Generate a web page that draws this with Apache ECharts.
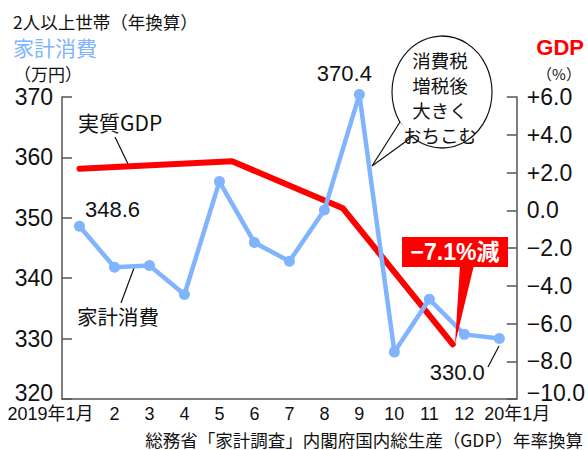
<!DOCTYPE html>
<html>
<head>
<meta charset="utf-8">
<script src="https://cdn.jsdelivr.net/npm/echarts@6/dist/echarts.min.js"></script>
<style>
  html, body { margin: 0; padding: 0; background: #fff; }
  #chart { width: 588px; height: 450px; }
</style>
</head>
<body>
<div id="chart"></div>
<script>
// months (category axis)
var months = ['2019年1月', '2', '3', '4', '5', '6', '7', '8', '9', '10', '11', '12', '20年1月'];
// household consumption, 10k yen (annualized)
var spending = [348.6, 341.8, 342.1, 337.3, 356.0, 345.9, 342.8, 351.3, 370.4, 327.8, 336.5, 330.7, 330.0];
// real GDP, quarterly, annualized %  (position on month axis)
var gdpPos = [0, 4.36, 7.53, 10.67];
var gdpValues = [2.2, 2.6, 0.1, -7.1];

var FONT = "'Liberation Sans', 'Noto Sans CJK JP', sans-serif";
var CJK = "'Noto Sans CJK JP', 'Liberation Sans', sans-serif";
var BLUE = '#80b4ff';
var RED = '#ff0000';
var AXIS = '#555';

function gdpLabel(v) {
    var s;
    if (v > 0) s = '+' + v.toFixed(1);
    else if (v < 0) s = '\u2212' + Math.abs(v).toFixed(1);
    else s = '0.0';
    return v === -10 ? '{b|' + s + '}' : s;
}

function spendLabel(v) {
    return v === 320 ? '{b|' + v + '}' : String(v);
}

var labelled = {
    0: [33, -17],
    8: [-15, -21],
    12: [-42, 34]
};

var spendingData = spending.map(function (v, i) {
    if (!labelled[i]) return v;
    return {
        value: v,
        label: {
            show: true,
            position: 'inside',
            offset: labelled[i],
            formatter: v.toFixed(1),
            color: '#111',
            fontSize: 22,
            fontFamily: FONT
        }
    };
});

var chart = echarts.init(document.getElementById('chart'), null, { renderer: 'svg' });

var option = {
    animation: false,
    grid: { left: 62, right: 71, top: 97, bottom: 51 },
    xAxis: [{
        type: 'category',
        data: months,
        boundaryGap: true,
        axisLine: { onZero: false, lineStyle: { color: AXIS, width: 1.5 } },
        axisTick: { inside: true, alignWithLabel: true, length: 6, lineStyle: { color: AXIS, width: 1.5 } },
        axisLabel: {
            interval: 0,
            margin: 6,
            color: '#111',
            fontSize: 18,
            fontFamily: FONT,
            formatter: function (v, i) {
                if (i === 0) return '{f|' + v + '}';
                if (i === months.length - 1) return '{l|' + v + '}';
                return v;
            },
            rich: {
                f: { fontSize: 18, fontFamily: FONT, color: '#111', padding: [0, 58, 0, 0] },
                l: { fontSize: 18, fontFamily: FONT, color: '#111', padding: [0, 0, 0, 36] }
            }
        }
    }, {
        type: 'value',
        show: false,
        min: -0.5,
        max: 12.5
    }],
    yAxis: [{
        type: 'value',
        min: 320,
        max: 370,
        interval: 10,
        position: 'left',
        axisLine: { show: true, onZero: false, lineStyle: { color: AXIS, width: 1.5 } },
        axisTick: { show: true, inside: true, length: 10, lineStyle: { color: AXIS, width: 1.5 } },
        splitLine: { show: false },
        axisLabel: {
            margin: 9, color: '#111', fontSize: 23, fontFamily: FONT, formatter: spendLabel,
            rich: { b: { fontSize: 23, fontFamily: FONT, color: '#111', padding: [0, 0, 12, 0] } }
        }
    }, {
        type: 'value',
        min: -10,
        max: 6,
        interval: 2,
        position: 'right',
        axisLine: { show: true, onZero: false, lineStyle: { color: AXIS, width: 1.5 } },
        axisTick: { show: true, inside: true, length: 10, lineStyle: { color: AXIS, width: 1.5 } },
        splitLine: { show: false },
        axisLabel: {
            margin: 10, color: '#111', fontSize: 23, fontFamily: FONT, formatter: gdpLabel,
            rich: { b: { fontSize: 23, fontFamily: FONT, color: '#111', padding: [0, 0, 12, 0] } }
        }
    }],
    series: [{
        name: '実質GDP',
        type: 'line',
        xAxisIndex: 1,
        yAxisIndex: 1,
        data: gdpPos.map(function (p, i) { return [p, gdpValues[i]]; }),
        symbol: 'none',
        clip: false,
        lineStyle: { color: RED, width: 6, cap: 'round', join: 'round' },
        z: 2
    }, {
        name: '家計消費',
        type: 'line',
        data: spendingData,
        symbol: 'circle',
        symbolSize: 11,
        clip: false,
        itemStyle: { color: BLUE },
        lineStyle: { color: BLUE, width: 4.5 },
        z: 3
    }],
    graphic: [
        // header texts
        { type: 'text', x: 13, y: 21, style: { text: '2人以上世帯（年換算）', font: '17.5px ' + CJK, fill: '#111', textVerticalAlign: 'middle' } },
        { type: 'text', x: 13, y: 47, style: { text: '家計消費', font: '21px ' + CJK, fill: BLUE, textVerticalAlign: 'middle' } },
        { type: 'text', x: 14, y: 73, style: { text: '（万円）', font: '17px ' + CJK, fill: '#111', textVerticalAlign: 'middle' } },
        { type: 'text', x: 584, y: 47, style: { text: 'GDP', font: 'bold 22px ' + FONT, fill: RED, textAlign: 'right', textVerticalAlign: 'middle' } },
        { type: 'text', x: 559, y: 73, style: { text: '（%）', font: '15px ' + CJK, fill: '#111', textAlign: 'center', textVerticalAlign: 'middle' } },
        // series name labels with leaders
        { type: 'text', x: 78, y: 122, style: { text: '実質GDP', font: '21px ' + CJK, fill: '#111', textVerticalAlign: 'middle' } },
        { type: 'line', shape: { x1: 115, y1: 137, x2: 128, y2: 164 }, style: { stroke: '#111', lineWidth: 1.2 } },
        { type: 'text', x: 77, y: 316, style: { text: '家計消費', font: '20.5px ' + CJK, fill: '#111', textVerticalAlign: 'middle' } },
        { type: 'line', shape: { x1: 134, y1: 268, x2: 121, y2: 303 }, style: { stroke: '#111', lineWidth: 1.2 } },
        { type: 'line', shape: { x1: 488, y1: 367, x2: 499, y2: 346 }, style: { stroke: '#111', lineWidth: 1.2 } },
        // speech bubble
        {
            type: 'circle', z: 10, x: 442, y: 92, scaleX: 50 / 56,
            shape: { cx: 0, cy: 0, r: 56 },
            style: { fill: '#fff', stroke: '#111', lineWidth: 1.3 }
        },
        { type: 'polygon', z: 11, shape: { points: [[400, 122], [372, 166], [412, 137]] }, style: { fill: '#fff' } },
        { type: 'polyline', z: 12, shape: { points: [[400, 122], [372, 166], [412, 137]] }, style: { stroke: '#111', lineWidth: 1.2, fill: null } },
        {
            type: 'text', z: 13, x: 440, y: 97,
            style: { text: '消費税\n増税後\n大きく\nおちこむ', font: '18.5px ' + CJK, lineHeight: 25, fill: '#111', textAlign: 'center', textVerticalAlign: 'middle' }
        },
        // -7.1% callout
        { type: 'polygon', z: 10, shape: { points: [[460, 265], [474, 265], [455, 344]] }, style: { fill: RED } },
        { type: 'rect', z: 10, shape: { x: 402, y: 237, width: 106, height: 30 }, style: { fill: RED } },
        { type: 'text', z: 11, x: 455, y: 252, style: { text: '\u22127.1%減', font: 'bold 23px ' + FONT, fill: '#fff', textAlign: 'center', textVerticalAlign: 'middle' } },
        // source
        { type: 'text', x: 583, y: 439, style: { text: '総務省「家計調査」内閣府国内総生産（GDP）年率換算', font: '17.5px ' + CJK, fill: '#111', textAlign: 'right', textVerticalAlign: 'middle' } }
    ]
};

chart.setOption(option);
</script>
</body>
</html>
